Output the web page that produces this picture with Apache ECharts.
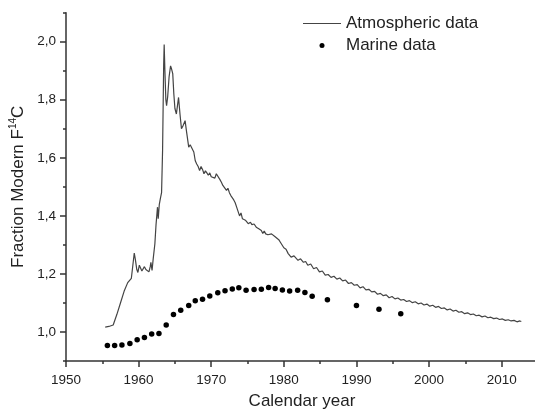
<!DOCTYPE html>
<html>
<head>
<meta charset="utf-8">
<script src="https://cdn.jsdelivr.net/npm/echarts@6/dist/echarts.min.js"></script>
<style>html,body{margin:0;padding:0;background:#fff}#c{width:535px;height:413px}</style>
</head>
<body>
<div id="c"></div>
<script>
// Atmospheric F14C record: [calendar year, value]
var atmospheric = [
[1955.4,1.017],[1955.9,1.019],[1956.5,1.024],[1957.0,1.06],[1957.5,1.10],[1958.0,1.14],[1958.5,1.17],[1959.0,1.185],[1959.2,1.19],
[1959.4,1.272],[1959.55,1.25],[1959.75,1.215],[1959.9,1.205],[1960.1,1.23],[1960.27,1.236],[1960.45,1.21],[1960.63,1.207],
[1960.8,1.225],[1961.0,1.215],[1961.15,1.22],[1961.42,1.207],[1961.6,1.225],[1961.69,1.24],[1961.85,1.212],[1962.0,1.25],
[1962.24,1.304],[1962.4,1.37],[1962.5,1.40],[1962.6,1.43],[1962.7,1.39],[1962.85,1.44],[1963.0,1.46],[1963.16,1.48],
[1963.3,1.625],[1963.45,1.92],[1963.52,1.99],[1963.62,1.90],[1963.75,1.80],[1963.85,1.78],[1964.0,1.81],[1964.2,1.88],
[1964.4,1.917],[1964.55,1.905],[1964.7,1.89],[1964.85,1.82],[1965.0,1.77],[1965.2,1.751],[1965.35,1.78],[1965.5,1.808],
[1965.7,1.75],[1965.9,1.70],[1966.1,1.71],[1966.4,1.728],[1966.6,1.69],[1966.9,1.637],[1967.1,1.645],[1967.3,1.648],
[1967.6,1.62],[1967.8,1.59],[1968.0,1.579],[1968.2,1.57],[1968.4,1.556],[1968.6,1.57],[1968.8,1.56],[1969.0,1.545],
[1969.2,1.555],[1969.4,1.548],[1969.6,1.54],[1969.8,1.548],[1970.0,1.535],[1970.26,1.539],[1970.5,1.53],[1970.7,1.545],
[1970.95,1.54],[1971.2,1.525],[1971.4,1.516],[1971.6,1.505],[1971.8,1.51],[1972.1,1.488],[1972.3,1.495],[1972.5,1.48],
[1972.7,1.47],[1972.9,1.475],[1973.1,1.455],[1973.3,1.445],[1973.5,1.43],[1973.7,1.435],[1973.9,1.40],[1974.1,1.41],
[1974.3,1.39],[1974.5,1.395],[1974.7,1.385],[1974.9,1.39],[1975.1,1.373],[1975.4,1.378],[1975.6,1.37],[1975.9,1.372],
[1976.2,1.361],[1976.4,1.366],[1976.6,1.355],[1976.9,1.35],[1977.1,1.339],[1977.3,1.348],[1977.5,1.338],[1977.8,1.335],
[1978.0,1.34],[1978.3,1.338],[1978.5,1.344],[1978.8,1.328],[1979.0,1.322],[1979.3,1.318],[1979.5,1.31],[1979.7,1.304],
[1980.0,1.29],[1980.3,1.285],[1980.6,1.27],[1980.8,1.272],[1981.0,1.258],[1981.4,1.262],[1981.95,1.247],[1982.3,1.252],
[1982.7,1.24],[1983.0,1.243],[1983.3,1.23],[1983.7,1.234],[1984.1,1.218],[1984.5,1.222],[1984.9,1.207],[1985.3,1.21],
[1985.7,1.196],[1986.1,1.198],[1986.5,1.188],[1986.9,1.192],[1987.3,1.182],[1987.7,1.186],[1988.1,1.176],[1988.5,1.179],
[1988.9,1.167],[1989.3,1.170],[1989.7,1.161],[1990.1,1.163],[1990.5,1.152],[1990.9,1.156],[1991.3,1.145],[1991.7,1.147],
[1992.1,1.138],[1992.5,1.140],[1992.9,1.130],[1993.3,1.133],[1993.7,1.125],[1994.1,1.128],[1994.5,1.118],[1994.9,1.122],
[1995.3,1.114],[1995.7,1.117],[1996.1,1.110],[1996.5,1.112],[1996.9,1.105],[1997.3,1.108],[1997.7,1.101],[1998.1,1.104],
[1998.5,1.097],[1998.9,1.100],[1999.3,1.093],[1999.7,1.096],[2000.1,1.089],[2000.5,1.092],[2000.9,1.085],[2001.3,1.088],
[2001.7,1.081],[2002.1,1.083],[2002.5,1.076],[2002.9,1.079],[2003.3,1.072],[2003.7,1.075],[2004.1,1.068],[2004.5,1.070],
[2004.9,1.063],[2005.3,1.066],[2005.7,1.060],[2006.1,1.062],[2006.5,1.056],[2006.9,1.058],[2007.3,1.052],[2007.7,1.055],
[2008.1,1.049],[2008.5,1.051],[2008.9,1.046],[2009.3,1.048],[2009.7,1.043],[2010.1,1.045],[2010.5,1.040],[2010.9,1.042],
[2011.3,1.038],[2011.7,1.040],[2012.1,1.035],[2012.5,1.038],[2012.7,1.036]
];
// Marine F14C record
var marineYears = [1955.7,1956.7,1957.7,1958.8,1959.8,1960.8,1961.8,1962.8,1963.8,1964.8,1965.8,1966.9,1967.8,1968.8,1969.8,
  1970.9,1971.9,1972.9,1973.8,1974.8,1975.9,1976.9,1977.9,1978.8,1979.8,1980.8,1981.9,1982.9,1983.9,1986.0,1990.0,1993.1,1996.1];
var marineValues = [0.953,0.953,0.955,0.960,0.973,0.981,0.993,0.995,1.024,1.060,1.075,1.091,1.108,1.113,1.124,
  1.135,1.142,1.148,1.152,1.144,1.146,1.147,1.153,1.150,1.145,1.141,1.144,1.136,1.123,1.111,1.091,1.078,1.063];
var yMajorTicks = [1.0,1.2,1.4,1.6,1.8,2.0];

var marine = marineYears.map(function(y,i){return [y, marineValues[i]];});
var FONT = 'Liberation Sans, Arial, sans-serif';
var AX = '#333';
var TXT = '#222';
var chart = echarts.init(document.getElementById('c'));
chart.setOption({
  animation:false,
  grid:{left:66, right:-3, top:12.7, bottom:52, containLabel:false, outerBoundsMode:'none'},
  legend:{
    orient:'vertical', left:303, top:15, padding:0, itemWidth:38, itemHeight:5, itemGap:5,
    textStyle:{fontFamily:FONT, fontSize:17, color:TXT},
    data:[{name:'Atmospheric data', icon:'path://M0,0h38v1h-38z'},{name:'Marine data', icon:'circle'}]
  },
  xAxis:[{
    type:'value', min:1950, max:2015, interval:5,
    axisLine:{show:true, lineStyle:{color:AX, width:1.5}},
    axisTick:{show:true, length:3, lineStyle:{color:AX, width:1.5}},
    axisLabel:{fontFamily:FONT, fontSize:13.5, color:TXT, margin:12,
      formatter:function(v){ return (v % 10 === 0) ? String(v) : ''; }},
    splitLine:{show:false},
    name:'Calendar year', nameLocation:'middle', nameGap:32,
    nameTextStyle:{fontFamily:FONT, fontSize:17, color:TXT}
  },{
    type:'value', min:1950, max:2015, interval:10, position:'bottom',
    axisLine:{show:false},
    axisTick:{show:true, length:6, lineStyle:{color:AX, width:1.5}},
    axisLabel:{show:false}, splitLine:{show:false}
  }],
  yAxis:[{
    type:'value', min:0.9, max:2.1, interval:0.1,
    axisLine:{show:true, lineStyle:{color:AX, width:1.5}},
    axisTick:{show:true, length:3, lineStyle:{color:AX, width:1.5}},
    axisLabel:{fontFamily:FONT, fontSize:13.5, color:TXT, margin:10,
      formatter:function(v){ var k = Math.round(v*10); return (k % 2 === 0) ? (k/10).toFixed(1).replace('.', ',') : ''; }},
    splitLine:{show:false},
    name:'{a|Fraction Modern F}{s|14}{a|C}', nameLocation:'middle', nameGap:31,
    nameTextStyle:{fontFamily:FONT, fontSize:17, color:TXT,
      rich:{a:{fontFamily:FONT, fontSize:17, color:TXT, lineHeight:20},
            s:{fontFamily:FONT, fontSize:10, color:TXT, verticalAlign:'top', lineHeight:20}}}
  },{
    type:'value', min:0.9, max:2.1, position:'left',
    axisLine:{show:false},
    axisTick:{show:true, customValues:yMajorTicks, length:6, lineStyle:{color:AX, width:1.5}},
    axisLabel:{show:false, customValues:yMajorTicks}, splitLine:{show:false}
  }],
  series:[{
    name:'Atmospheric data', type:'line', data:atmospheric, showSymbol:false, symbol:'none',
    color:'#444', lineStyle:{color:'#444', width:1.2}, xAxisIndex:0, yAxisIndex:0
  },{
    name:'Marine data', type:'scatter', data:marine, symbolSize:5.5,
    color:'#000', itemStyle:{color:'#000', opacity:1}, xAxisIndex:0, yAxisIndex:0
  }]
});
</script>
</body>
</html>
